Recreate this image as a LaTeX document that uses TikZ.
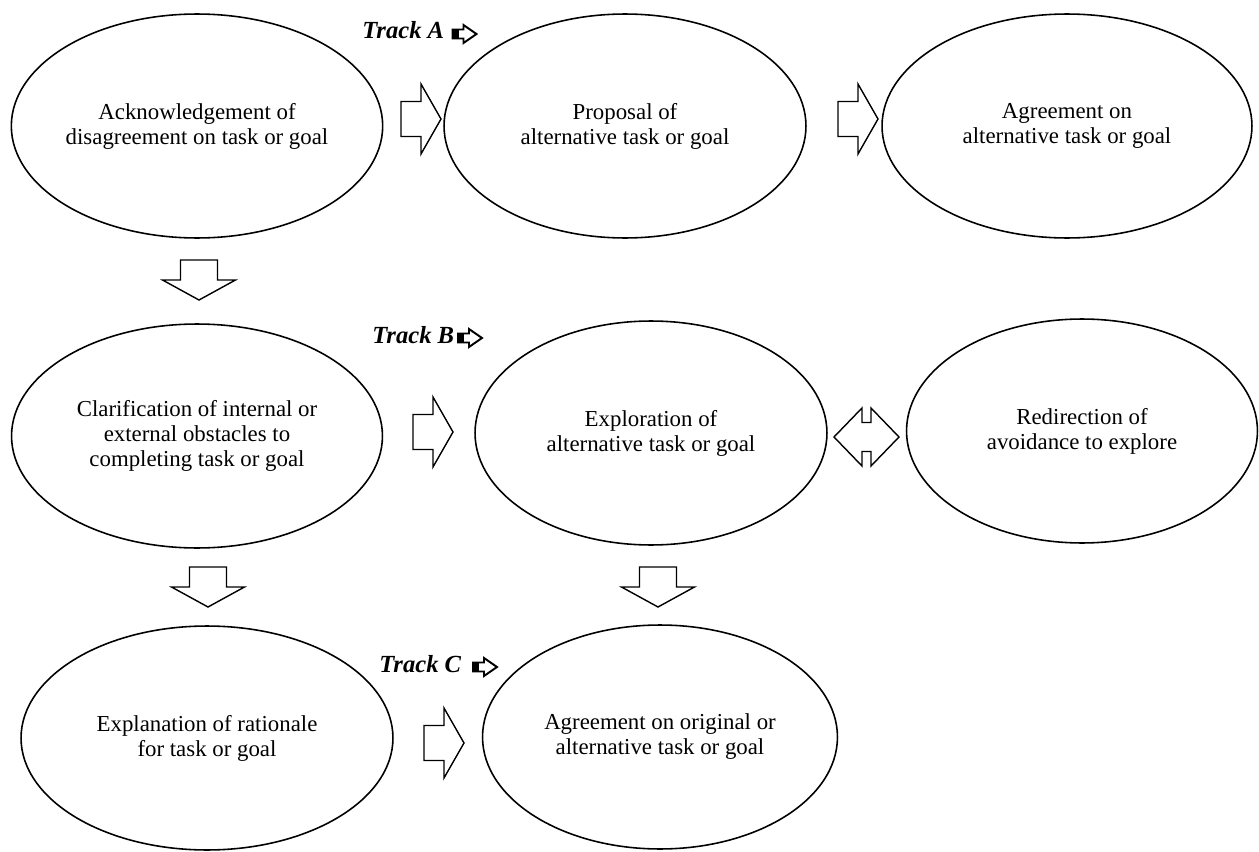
\documentclass[tikz,border=0pt]{standalone}
\usepackage{fontspec}
\setmainfont{Liberation Serif}
\usetikzlibrary{shapes.geometric}

\begin{document}
\begin{tikzpicture}[x=0.02cm, y=-0.02cm,
  stage/.style = {draw, ellipse, line width=0.9pt, inner sep=0pt, minimum height=4.48cm, align=center, font=\fontsize{13}{14.2}\selectfont},
  track/.style = {anchor=base west, inner sep=0pt, font=\fontsize{14}{16}\selectfont\bfseries\itshape},
  rblock/.pic = {\draw[line width=0.8pt] (-20,-17.5) -- (0,-17.5) -- (0,-35) -- (20,0) -- (0,35) -- (0,17.5) -- (-20,17.5) -- cycle;},
  dblock/.pic = {\draw[line width=0.8pt] (-18.5,-20) -- (-18.5,0) -- (-36.5,0) -- (0,20) -- (36.5,0) -- (18.5,0) -- (18.5,-20) -- cycle;},
  bothblock/.pic = {\draw[line width=0.8pt] (-32.5,0) -- (-4.5,-29) -- (-4.5,-14.5) -- (4.5,-14.5) -- (4.5,-29) -- (32.5,0) -- (4.5,29) -- (4.5,14.5) -- (-4.5,14.5) -- (-4.5,29) -- cycle;},
  tarrow/.pic = {\fill (-12.5,-5) rectangle (-6,5);
    \draw[line width=1.1pt] (-12,-4.5) -- (-1,-4.5) -- (-1,-9) -- (12,0) -- (-1,9) -- (-1,4.5) -- (-12,4.5) -- cycle;}]

\useasboundingbox (0,0) rectangle (1259,852);

% stages
\node[stage, minimum width=7.4cm] (ack) at (197,126) {Acknowledgement of\\disagreement on task or goal};
\node[stage, minimum width=7.24cm] (prop) at (625,126) {Proposal of\\alternative task or goal};
\node[stage, minimum width=7.4cm] (agree) at (1067,126) {Agreement on\\alternative task or goal};
\node[stage, minimum width=7.42cm] (clar) at (197,436) {Clarification of internal or\\external obstacles to\\completing task or goal};
\node[stage, minimum width=7.04cm] (expl) at (651,433) {Exploration of\\alternative task or goal};
\node[stage, minimum width=7.02cm] (redir) at (1082,431) {Redirection of\\avoidance to explore};
\node[stage, minimum width=7.44cm] (ration) at (207,738) {Explanation of rationale\\for task or goal};
\node[stage, minimum width=7.1cm] (final) at (660,737) {Agreement on original or\\alternative task or goal};

% tracks
\node[track] (ta) at (362,38) {Track A};
\node[track] (tb) at (372,343) {Track B};
\node[track] (tc) at (379,672) {Track C};
\pic at (464.5,34) {tarrow};
\pic at (470,338) {tarrow};
\pic at (485,667) {tarrow};

% block arrows
\pic at (421,119) {rblock};
\pic at (858,119) {rblock};
\pic at (433,432) {rblock};
\pic at (444,743) {rblock};
\pic at (199,280) {dblock};
\pic at (208,587) {dblock};
\pic at (658,587) {dblock};
\pic at (866.5,437) {bothblock};

\end{tikzpicture}
\end{document}
